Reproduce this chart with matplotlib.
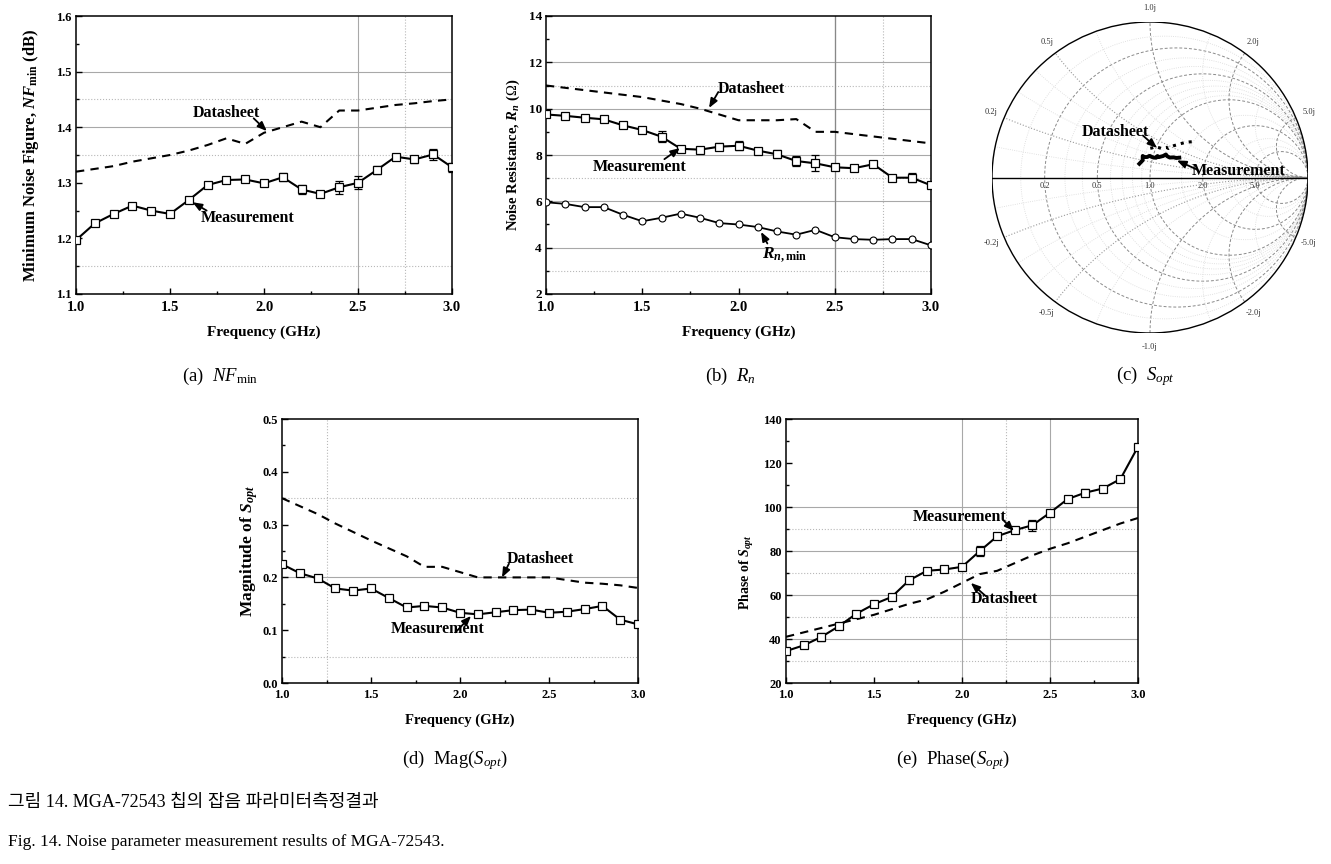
import numpy as np
import matplotlib
matplotlib.use("Agg")
import matplotlib.pyplot as plt
from matplotlib.patches import Circle

plt.rcParams['font.family'] = ['Liberation Serif', 'DejaVu Serif']
plt.rcParams['mathtext.fontset'] = 'custom'
plt.rcParams['mathtext.rm'] = 'Liberation Serif'
plt.rcParams['mathtext.it'] = 'Liberation Serif:italic'
plt.rcParams['mathtext.bf'] = 'Liberation Serif:bold'
plt.rcParams['mathtext.bfit'] = 'Liberation Serif:italic:bold'

# ---- data ----
freq = [1.0, 1.1, 1.2, 1.3, 1.4, 1.5, 1.6, 1.7, 1.8, 1.9, 2.0,
        2.1, 2.2, 2.3, 2.4, 2.5, 2.6, 2.7, 2.8, 2.9, 3.0]

nf_meas = [1.197, 1.227, 1.244, 1.259, 1.250, 1.244, 1.269, 1.296, 1.305, 1.306, 1.299,
           1.310, 1.288, 1.280, 1.292, 1.300, 1.323, 1.347, 1.342, 1.351, 1.328]
nf_err = [0.004, 0.004, 0.004, 0.004, 0.003, 0.004, 0.004, 0.004, 0.003, 0.004, 0.004,
          0.007, 0.008, 0.006, 0.012, 0.012, 0.007, 0.004, 0.007, 0.010, 0.008]
nf_ds = [1.320, 1.325, 1.330, 1.338, 1.344, 1.350, 1.358, 1.368, 1.380, 1.370, 1.390,
         1.400, 1.410, 1.400, 1.430, 1.430, 1.435, 1.440, 1.443, 1.447, 1.450]

rn_meas = [9.75, 9.69, 9.61, 9.54, 9.28, 9.08, 8.79, 8.27, 8.23, 8.36, 8.40,
           8.19, 8.03, 7.74, 7.64, 7.47, 7.43, 7.60, 7.02, 7.02, 6.69]
rn_err = [0.08, 0.10, 0.08, 0.08, 0.08, 0.10, 0.25, 0.10, 0.10, 0.15, 0.20,
          0.12, 0.18, 0.22, 0.35, 0.10, 0.10, 0.10, 0.10, 0.20, 0.10]
rn_ds = [11.0, 10.9, 10.8, 10.7, 10.6, 10.5, 10.35, 10.2, 10.0, 9.75, 9.5,
         9.5, 9.5, 9.55, 9.0, 9.0, 8.9, 8.8, 8.7, 8.6, 8.5]
rn_min = [5.96, 5.89, 5.75, 5.75, 5.42, 5.14, 5.29, 5.47, 5.29, 5.06, 5.00,
          4.89, 4.70, 4.56, 4.77, 4.45, 4.37, 4.34, 4.37, 4.37, 4.10]

mag_meas = [0.225, 0.208, 0.198, 0.179, 0.175, 0.179, 0.161, 0.143, 0.146, 0.143, 0.133,
            0.130, 0.134, 0.138, 0.139, 0.133, 0.135, 0.140, 0.146, 0.120, 0.111]
mag_err = [0.004, 0.004, 0.003, 0.004, 0.004, 0.004, 0.003, 0.004, 0.004, 0.004, 0.004,
           0.004, 0.004, 0.004, 0.004, 0.003, 0.004, 0.003, 0.004, 0.003, 0.004]
mag_ds = [0.350, 0.335, 0.320, 0.302, 0.286, 0.270, 0.255, 0.240, 0.220, 0.220, 0.210,
          0.200, 0.200, 0.200, 0.200, 0.200, 0.195, 0.190, 0.188, 0.185, 0.180]

ph_meas = [34.5, 37.1, 40.9, 45.8, 51.5, 55.8, 59.1, 66.7, 71.0, 71.6, 72.8,
           79.9, 86.7, 89.5, 91.7, 97.4, 103.6, 106.5, 108.4, 112.7, 127.4]
ph_err = [1.0, 0.8, 1.8, 1.2, 0.8, 1.0, 1.0, 1.5, 0.8, 1.0, 1.0,
          2.2, 1.2, 0.8, 2.5, 0.8, 1.5, 1.5, 0.8, 1.5, 1.2]
ph_ds = [41.0, 43.0, 45.0, 47.0, 49.0, 51.0, 53.5, 56.0, 58.0, 61.5, 65.5,
         69.5, 71.0, 74.5, 78.0, 81.0, 83.5, 86.5, 89.5, 92.5, 95.0]

W, H = 1331, 864
fig = plt.figure(figsize=(W / 100, H / 100), dpi=100)


def box(l, t, r, b):
    return [l / W, 1 - b / H, (r - l) / W, (b - t) / H]


def grid(ax, hs=(), hd=(), vs=(), vd=()):
    for y in hs:
        ax.axhline(y, color='#a8a8a8', lw=0.8, zorder=0)
    for y in hd:
        ax.axhline(y, color='#b8b8b8', lw=0.8, ls=':', zorder=0)
    for x in vs:
        ax.axvline(x, color='#a8a8a8', lw=0.8, zorder=0)
    for x in vd:
        ax.axvline(x, color='#b8b8b8', lw=0.8, ls=':', zorder=0)


def style(ax, ylim, yticks, yfmt, ylabel, xts, yts, xls, yls, xlp, ylp, xpad):
    ax.set_xlim(1.0, 3.0)
    ax.set_ylim(*ylim)
    ax.set_xticks([1.0, 1.5, 2.0, 2.5, 3.0])
    ax.set_xticks([1.25, 1.75, 2.25, 2.75], minor=True)
    ax.set_yticks(yticks)
    step = yticks[1] - yticks[0]
    ax.set_yticks(np.array(yticks[:-1]) + step / 2, minor=True)
    ax.set_xticklabels(['%.1f' % v for v in [1.0, 1.5, 2.0, 2.5, 3.0]])
    ax.set_yticklabels([yfmt % v for v in yticks])
    ax.tick_params(which='both', direction='in', width=1.0)
    ax.tick_params(axis='x', labelsize=xts, pad=xpad)
    ax.tick_params(axis='y', labelsize=yts, pad=3)
    ax.tick_params(which='major', length=4)
    ax.tick_params(which='minor', length=2.5)
    for lab in ax.get_xticklabels() + ax.get_yticklabels():
        lab.set_fontweight('bold')
    for s in ax.spines.values():
        s.set_linewidth(1.1)
    ax.set_xlabel('Frequency (GHz)', fontsize=xls, fontweight='bold', labelpad=xlp)
    ax.set_ylabel(ylabel, fontsize=yls, fontweight='bold', labelpad=ylp)


ARROW = dict(arrowstyle='-|>,head_length=0.55,head_width=0.22', color='k', lw=1.3,
             shrinkA=0, shrinkB=0)


def note(ax, text, xy, xytext, tail):
    ax.text(xytext[0], xytext[1], text, fontsize=11.5, fontweight='bold',
            ha='center', va='center', zorder=6)
    ax.annotate('', xy=xy, xytext=tail, arrowprops=ARROW, zorder=6)


meas_kw = dict(fmt='-s', color='k', mfc='white', mec='k', ms=5.5, mew=0.9,
               lw=1.5, elinewidth=0.9, capsize=3, capthick=0.9, zorder=3)

# (a) NFmin
ax = fig.add_axes(box(76, 16, 452, 294))
grid(ax, hs=[1.4, 1.5], hd=[1.15, 1.35, 1.45], vs=[2.5], vd=[2.75])
ax.plot(freq, nf_ds, color='k', ls=(0, (4, 3)), lw=1.5, zorder=2)
ax.errorbar(freq, nf_meas, yerr=nf_err, **meas_kw)
style(ax, (1.1, 1.6), [1.1, 1.2, 1.3, 1.4, 1.5, 1.6], '%.1f',
      r'Minimum Noise Figure, $\mathbfit{NF}_{\mathbf{min}}$ (dB)',
      10.5, 9, 11, 12, 8, 11, 5)
note(ax, 'Datasheet', (2.015, 1.393), (1.80, 1.426), (1.945, 1.416))
note(ax, 'Measurement', (1.62, 1.265), (1.915, 1.237), (1.695, 1.250))

# (b) Rn
ax = fig.add_axes(box(546, 16, 931, 294))
grid(ax, hs=[4, 6, 8, 10, 12], hd=[3, 7, 11], vs=[2.5], vd=[2.75])
ax.axvline(2.5, color='#888888', lw=0.9, zorder=0)
ax.plot(freq, rn_ds, color='k', ls=(0, (4, 3)), lw=1.5, zorder=2)
ax.errorbar(freq, rn_meas, yerr=rn_err, **meas_kw)
ax.plot(freq, rn_min, '-o', color='k', mfc='white', mec='k', ms=5, mew=0.8,
        lw=1.3, zorder=3)
style(ax, (2, 14), [2, 4, 6, 8, 10, 12, 14], '%d',
      r'Noise Resistance, $\mathbfit{R}_{\mathbfit{n}}$ ($\Omega$)',
      10.5, 9.5, 11, 10.5, 8, 5, 5)
note(ax, 'Datasheet', (1.847, 10.03), (2.065, 10.85), (1.895, 10.72))
note(ax, 'Measurement', (1.696, 8.30), (1.488, 7.48), (1.615, 7.82))
ax.text(2.24, 3.72, r'$\mathbfit{R}_{\mathbfit{n}\mathbf{,min}}$', fontsize=12.5,
        ha='center', va='center', zorder=6)
ax.annotate('', xy=(2.117, 4.68), xytext=(2.15, 4.18), arrowprops=ARROW, zorder=6)

# (c) Smith chart of Sopt
ax = fig.add_axes(box(992, 22, 1308, 333))
ax.set_xlim(-1, 1)
ax.set_ylim(-1, 1)
ax.axis('off')
ax.add_patch(Circle((0, 0), 1, fill=False, ec='k', lw=1.0, zorder=4))
clip = Circle((0, 0), 1, transform=ax.transData)
r_major = [0.2, 0.5, 1.0, 2.0, 5.0]
r_minor = [0.1, 0.3, 0.4, 0.6, 0.7, 0.8, 0.9, 1.5, 3.0, 4.0]
x_dash = [1.0, 2.0, 5.0]
x_thin = [0.2, 0.5]
x_minor = [0.1, 0.3, 0.4, 0.7, 1.5, 3.0]
t = np.linspace(0, 2 * np.pi, 721)
for r in r_minor:
    c, rad = r / (1 + r), 1 / (1 + r)
    ax.plot(c + rad * np.cos(t), rad * np.sin(t), color='#d8d8d8', lw=0.6, ls=':')
for r in r_major:
    c, rad = r / (1 + r), 1 / (1 + r)
    ax.plot(c + rad * np.cos(t), rad * np.sin(t), color='#8a8a8a', lw=0.7, ls=(0, (3, 2)))
for xs, col, ls, lw in [(x_minor, '#d8d8d8', ':', 0.6), (x_thin, '#9a9a9a', ':', 0.8),
                        (x_dash, '#8a8a8a', (0, (3, 2)), 0.7)]:
    for x in xs:
        for sg in (1, -1):
            ln, = ax.plot(1 + (1 / x) * np.cos(t), sg / x + (1 / x) * np.sin(t),
                          color=col, lw=lw, ls=ls)
            ln.set_clip_path(clip)
ax.plot([-1, 1], [0, 0], color='k', lw=1.0, zorder=4)
for x in [0.2, 0.5, 1.0, 2.0, 5.0]:
    gx, gy = (x * x - 1) / (x * x + 1), 2 * x / (x * x + 1)
    for sg in (1, -1):
        ax.text(gx * 1.09, sg * gy * 1.09, '%s%.1fj' % ('' if sg > 0 else '-', x),
                fontsize=6, ha='center', va='center', color='#333333', clip_on=False)
for r in r_major:
    ax.text((r - 1) / (r + 1), -0.03, '%.1f' % r, fontsize=6, ha='center', va='top',
            color='#333333')
g_meas = np.array(mag_meas) * np.exp(1j * np.deg2rad(ph_meas))
g_ds = np.array(mag_ds) * np.exp(1j * np.deg2rad(ph_ds))
ax.plot(g_ds.real, g_ds.imag, color='k', ls=':', lw=2.2, zorder=5)
ax.plot(g_meas.real, g_meas.imag, color='k', lw=2.8, zorder=5)
note(ax, 'Datasheet', (0.044, 0.19), (-0.22, 0.295), (-0.045, 0.27))
note(ax, 'Measurement', (0.17, 0.11), (0.56, 0.04), (0.30, 0.05))

# (d) Mag(Sopt)
ax = fig.add_axes(box(282, 419, 638, 683))
grid(ax, hs=[0.2], hd=[0.05, 0.35], vd=[1.25])
ax.plot(freq, mag_ds, color='k', ls=(0, (4, 3)), lw=1.5, zorder=2)
ax.errorbar(freq, mag_meas, yerr=mag_err, **meas_kw)
style(ax, (0.0, 0.5), [0.0, 0.1, 0.2, 0.3, 0.4, 0.5], '%.1f',
      r'Magnitude of $\mathbfit{S}_{\mathbfit{opt}}$',
      9, 9, 10.5, 12.5, 9, 2, 4)
note(ax, 'Datasheet', (2.236, 0.2), (2.449, 0.235), (2.275, 0.226))
note(ax, 'Measurement', (2.062, 0.127), (1.876, 0.102), (1.975, 0.096))

# (e) Phase(Sopt)
ax = fig.add_axes(box(786, 419, 1138, 683))
grid(ax, hs=[40, 60, 80, 100], hd=[30, 50, 70, 90], vs=[2.0, 2.5], vd=[2.25])
ax.plot(freq, ph_ds, color='k', ls=(0, (4, 3)), lw=1.5, zorder=2)
ax.errorbar(freq, ph_meas, yerr=ph_err, **meas_kw)
style(ax, (20, 140), [20, 40, 60, 80, 100, 120, 140], '%d',
      r'Phase of $\mathbfit{S}_{\mathbfit{opt}}$',
      9, 9, 10.5, 10, 9, 2, 4)
ax.yaxis.set_label_coords(-0.085, 0.42)
note(ax, 'Measurement', (2.295, 89.1), (1.989, 95.5), (2.235, 94.0))
note(ax, 'Datasheet', (2.05, 65.5), (2.239, 58.2), (2.135, 59.5))

# panel captions
cap = dict(fontsize=13.5, ha='center', va='center')
fig.text(220 / W, 1 - 376 / H, r'(a)  $NF_{\rm min}$', **cap)
fig.text(730 / W, 1 - 376 / H, r'(b)  $R_n$', **cap)
fig.text(1145 / W, 1 - 376 / H, r'(c)  $S_{opt}$', **cap)
fig.text(455 / W, 1 - 760 / H, r'(d)  Mag($S_{opt}$)', **cap)
fig.text(953 / W, 1 - 760 / H, r'(e)  Phase($S_{opt}$)', **cap)

fig.text(8 / W, 1 - 803 / H, '그림 14. MGA-72543 칩의 잡음 파라미터측정결과',
         fontsize=13, ha='left', va='center',
         family=['Liberation Serif', 'Noto Sans CJK KR'])
fig.text(8 / W, 1 - 842 / H, 'Fig. 14. Noise parameter measurement results of MGA-72543.',
         fontsize=12.5, ha='left', va='center', family=['Liberation Serif'])

fig.savefig('out.png', dpi=100)
